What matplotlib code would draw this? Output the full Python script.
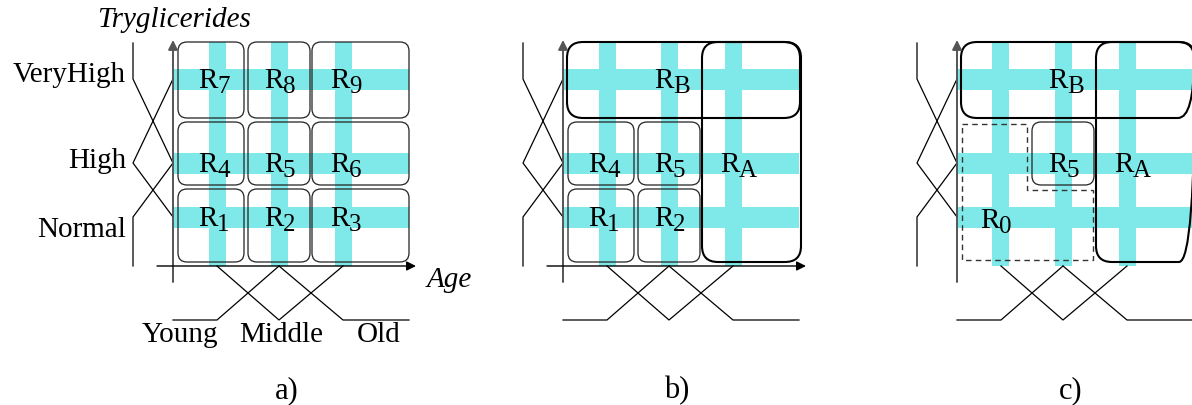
import matplotlib.pyplot as plt
from matplotlib.patches import FancyBboxPatch, Rectangle, Polygon

plt.rcParams['font.family'] = 'Liberation Serif'

# fuzzy partitions (positions in panel-local pixel space)
age_labels = ['Young', 'Middle', 'Old']
age_peaks = [217, 279, 343]
tg_labels = ['Normal', 'High', 'VeryHigh']
tg_peaks = [217, 163, 79]

# grid cells belonging to each fuzzy set (lo, hi)
col_spans = [(178, 244), (248, 310), (312, 409)]
row_spans = [(189, 262), (122, 185), (42, 118)]

panel_names = ['a)', 'b)', 'c)']
panel_shift = [0, 390, 784]

# rules of each panel: (row, col, subscript)
rules_a = [(r, c, str(3 * r + c + 1)) for r in range(3) for c in range(3)]
rules_b = [(0, 0, '1'), (0, 1, '2'), (1, 0, '4'), (1, 1, '5')]
rules_c = [(1, 1, '5')]

CYAN = '#7fe9e9'
FS = 21
W, H = 1192, 405

fig = plt.figure(figsize=(W / 100, H / 100), dpi=100)

# axis geometry
x_axis_y, y_axis_x = 266, 173
mu0_x, mu1_x = 173, 133      # tryglicerides membership 0 / 1
mu0_y, mu1_y = 266, 320      # age membership 0 / 1
x_lo, x_hi = 173, 409
y_lo, y_hi = 43, 266


def memberships(peaks, lo, hi):
    # triangular sets with shoulders at both ends
    out = []
    order = sorted(range(len(peaks)), key=lambda i: peaks[i])
    ps = [peaks[i] for i in order]
    for k, i in enumerate(order):
        pts = []
        if k == 0:
            pts += [(lo, 1)]
        else:
            pts += [(ps[k - 1], 0)]
        pts += [(ps[k], 1)]
        if k == len(ps) - 1:
            pts += [(hi, 1)]
        else:
            pts += [(ps[k + 1], 0)]
        out.append((i, pts))
    return out


def label(ax, x, y, sub, dx=2):
    ax.text(x + dx, y + 9, 'R', fontsize=FS, ha='right', va='baseline')
    ax.text(x + dx - 1, y + 14, sub, fontsize=FS - 3, ha='left', va='baseline')


def cell_box(ax, r, c, lw=0.9):
    (x0, x1), (y0, y1) = col_spans[c], row_spans[r]
    ax.add_patch(FancyBboxPatch((x0, y0), x1 - x0, y1 - y0,
                                boxstyle='round,pad=0,rounding_size=9',
                                fc='none', ec='#222222', lw=lw))


def merged_boxes(ax):
    # R_B: the whole VeryHigh row, R_A: the whole Old column
    x0, x1 = col_spans[0][0] - 1, col_spans[2][1] + 1
    y0, y1 = row_spans[2]
    ax.add_patch(FancyBboxPatch((x0, y0), x1 - x0, y1 - y0,
                                boxstyle='round,pad=0,rounding_size=16',
                                fc='none', ec='k', lw=1.5))
    x0, x1 = col_spans[2][0], col_spans[2][1] + 2
    y0, y1 = row_spans[2][0], row_spans[0][1]
    ax.add_patch(FancyBboxPatch((x0, y0), x1 - x0, y1 - y0,
                                boxstyle='round,pad=0,rounding_size=16',
                                fc='none', ec='k', lw=1.5))
    label(ax, age_peaks[1], tg_peaks[2], 'B', dx=5)
    label(ax, age_peaks[2], tg_peaks[1], 'A', dx=7)


for p, shift in enumerate(panel_shift):
    ax = fig.add_axes([0, 0, 1, 1])
    ax.set_xlim(-shift, W - shift)
    ax.set_ylim(H, 0)
    ax.axis('off')
    ax.patch.set_alpha(0)

    # highlighted bands through the fuzzy set peaks
    for xp in age_peaks:
        ax.add_patch(Rectangle((xp - 8.5, y_lo - 1), 17, x_axis_y - y_lo + 1,
                               fc=CYAN, ec='none', zorder=0))
    for yp in tg_peaks:
        ax.add_patch(Rectangle((y_axis_x, yp - 10.5), x_hi - y_axis_x, 21,
                               fc=CYAN, ec='none', zorder=0))

    # axes with arrows
    ax.annotate('', xy=(y_axis_x, 40), xytext=(y_axis_x, 282),
                arrowprops=dict(arrowstyle='-|>', color='#555555', lw=1.4,
                                mutation_scale=14, shrinkA=0, shrinkB=0))
    ax.annotate('', xy=(416, x_axis_y), xytext=(157, x_axis_y),
                arrowprops=dict(arrowstyle='-|>', color='k', lw=1.0,
                                mutation_scale=14, shrinkA=0, shrinkB=0))

    # membership functions
    for i, pts in memberships(age_peaks, x_lo, x_hi):
        ax.plot([q for q, m in pts],
                [mu0_y + m * (mu1_y - mu0_y) for q, m in pts],
                color='k', lw=0.9)
    for i, pts in memberships(tg_peaks, y_lo, x_axis_y):
        ax.plot([mu0_x + m * (mu1_x - mu0_x) for q, m in pts],
                [q for q, m in pts], color='k', lw=0.9)

    ax.text(287, 398, panel_names[p], fontsize=FS + 1, ha='center', va='baseline')

    if p == 0:
        for r, c, s in rules_a:
            cell_box(ax, r, c)
            label(ax, age_peaks[c], tg_peaks[r], s, dx=[1, 5, 7][c])
        for name, xc in zip(age_labels, [180, 281, 379]):
            ax.text(xc, 342, name, fontsize=FS, ha='center', va='baseline')
        for name, yb in zip(tg_labels, [237, 168, 82]):
            ax.text(126, yb, name, fontsize=FS, ha='right', va='baseline')
        ax.text(174, 27, 'Tryglicerides', fontsize=FS, style='italic',
                ha='center', va='baseline')
        ax.text(449, 287, 'Age', fontsize=FS, style='italic',
                ha='center', va='baseline')
    elif p == 1:
        merged_boxes(ax)
        for r, c, s in rules_b:
            cell_box(ax, r, c)
            label(ax, age_peaks[c], tg_peaks[r], s, dx=[1, 5, 7][c])
    else:
        merged_boxes(ax)
        for r, c, s in rules_c:
            cell_box(ax, r, c)
            label(ax, age_peaks[c], tg_peaks[r], s, dx=5)
        # R0: remaining Normal/High x Young/Middle cells, dashed outline
        xa, xb, xc = col_spans[0][0], col_spans[0][1] - 1, col_spans[1][1] - 1
        ya, yb, yc = row_spans[1][0] + 2, row_spans[0][0] + 1, row_spans[0][1] - 2
        ax.add_patch(Polygon([(xa, ya), (xb, ya), (xb, yb), (xc, yb), (xc, yc), (xa, yc)],
                             closed=True, fc='none', ec='#333333', lw=1.0,
                             ls=(0, (4, 3))))
        label(ax, age_peaks[0], tg_peaks[0] + 2, '0', dx=-1)

fig.savefig('out.png', dpi=100)
